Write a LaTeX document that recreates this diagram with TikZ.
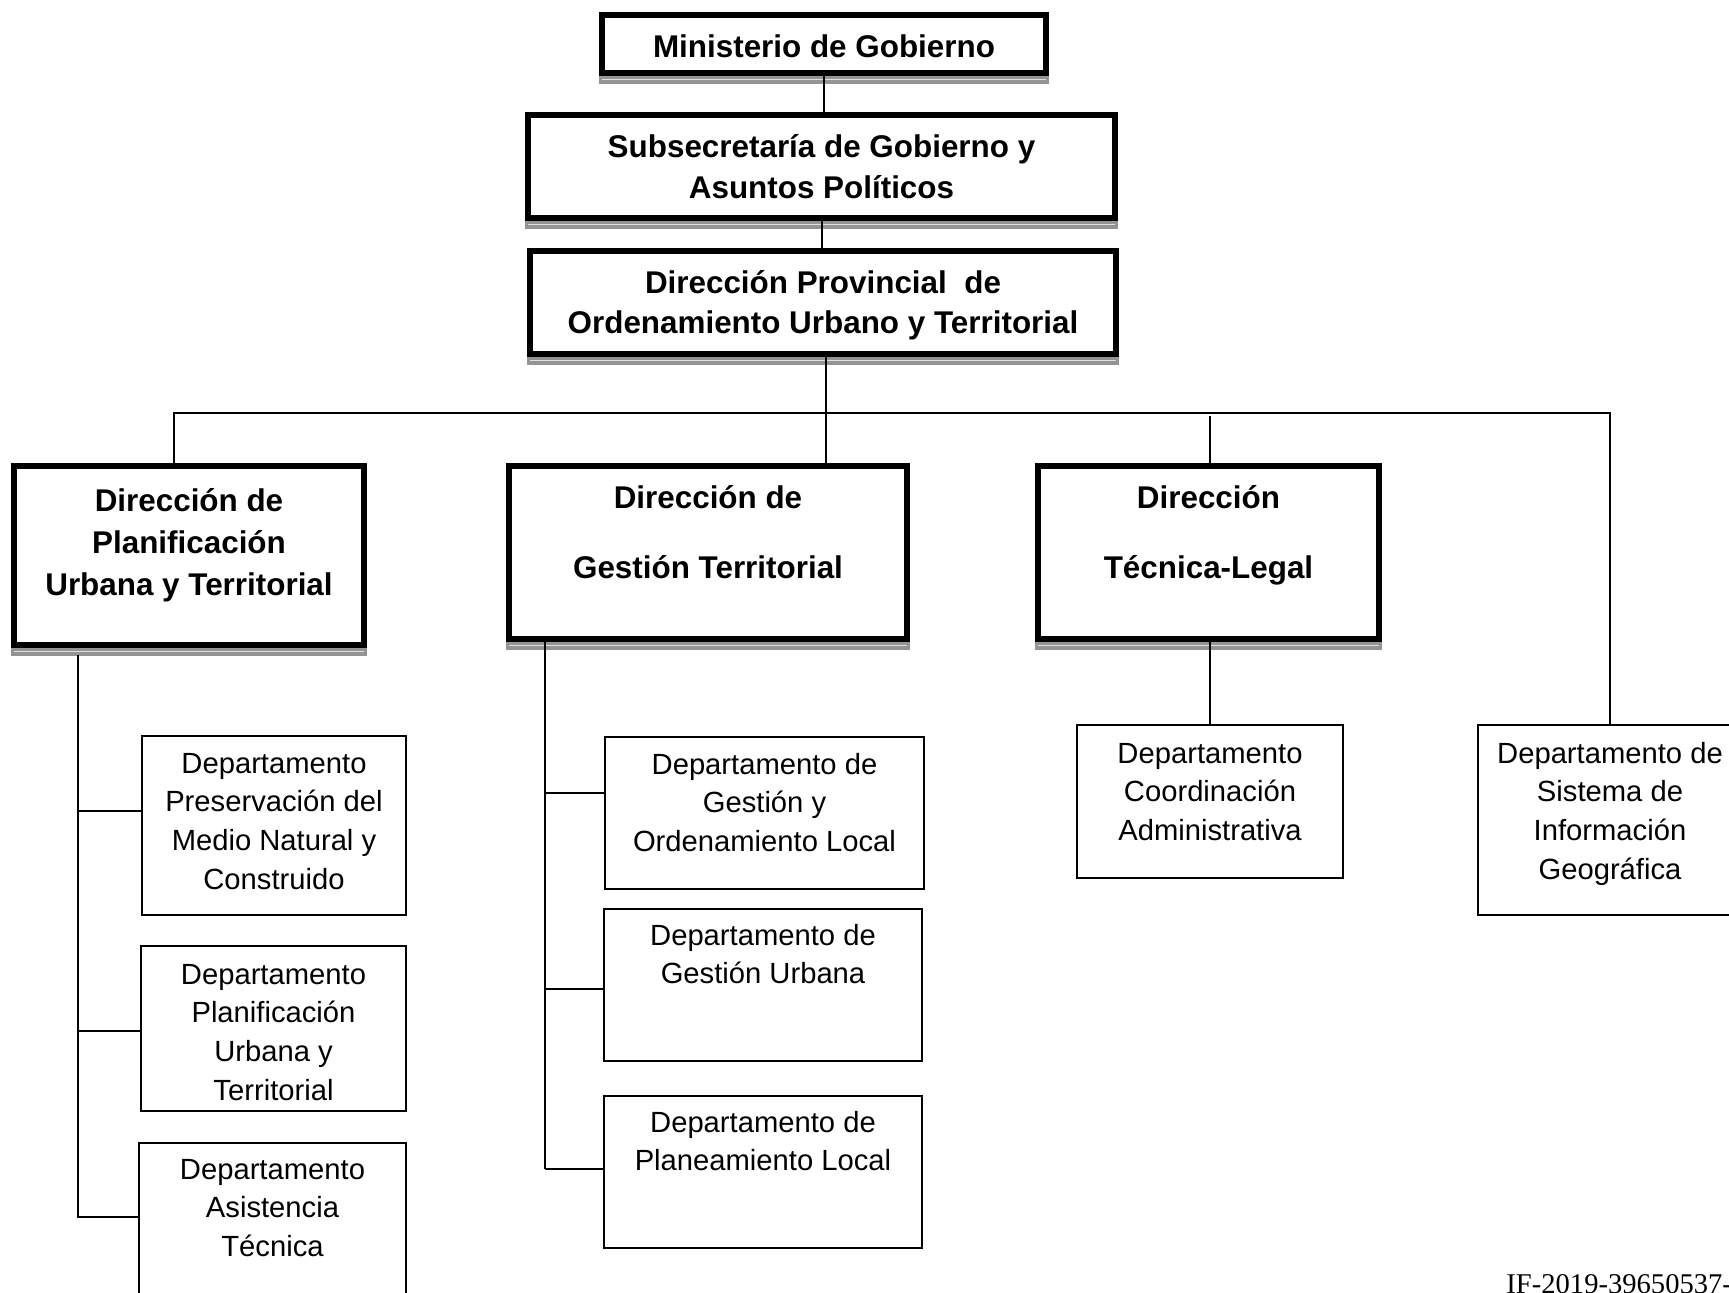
\documentclass[tikz,border=0pt]{standalone}
\usepackage{fontspec}
\setmainfont{Liberation Sans}
\newfontfamily\timesf{Liberation Serif}
\newcommand\boxshadow[1]{%
  \fill[black!42] (#1.south west) rectangle ([yshift=-4pt]#1.south east);
  \draw[black!12, line width=0.5pt] ([xshift=1.5pt,yshift=-1.8pt]#1.south west) -- ([xshift=-1.5pt,yshift=-1.8pt]#1.south east);
}
\newcommand\mlines[1]{\begin{tabular}[t]{@{}c@{}}#1\end{tabular}}
\begin{document}
\begin{tikzpicture}[x=0.5pt,y=-0.5pt,
  bigbox/.style={draw, line width=3pt, inner sep=0pt, minimum height=0pt, anchor=base,
     font=\bfseries\fontsize{15.7}{20.5}\selectfont},
  smallbox/.style={draw, line width=0.9pt, inner sep=0pt, minimum height=0pt, anchor=base,
     font=\fontsize{14.6}{19.35}\selectfont},
  conn/.style={line width=1pt}]
\useasboundingbox (0,0) rectangle (1729,1292);
\fill[white] (0,0) rectangle (1729,1292);
\clip (0,0) rectangle (1729,1292);

% top levels
\node[bigbox, minimum width=222pt, text height=21pt, text depth=8pt] (min) at (824,57) {Ministerio de Gobierno};
\node[bigbox, minimum width=293.5pt, text height=21pt, text depth=30.5pt] (sub) at (821.5,157) {\mlines{Subsecretaría de Gobierno y\\Asuntos Políticos}};
\node[bigbox, minimum width=293pt, text height=21pt, text depth=30.5pt, font=\bfseries\fontsize{15.7}{20}\selectfont] (prov) at (823,293) {\mlines{Dirección Provincial\ \ de\\Ordenamiento Urbano y Territorial}};

% directions
\node[bigbox, minimum width=175pt, text height=22.5pt, text depth=67pt, font=\bfseries\fontsize{15.7}{21}\selectfont] (plan) at (189,511) {\mlines{Dirección de\\Planificación\\Urbana y Territorial}};
\node[bigbox, minimum width=199pt, text height=21pt, text depth=65.5pt, font=\bfseries\fontsize{15.7}{35}\selectfont] (gest) at (708,508) {\mlines{Dirección de\\Gestión Territorial}};
\node[bigbox, minimum width=170.5pt, text height=21pt, text depth=65.5pt, font=\bfseries\fontsize{15.7}{35}\selectfont] (tec) at (1208.5,508) {\mlines{Dirección\\Técnica-Legal}};

\boxshadow{min}
\boxshadow{sub}
\boxshadow{prov}
\boxshadow{plan}
\boxshadow{gest}
\boxshadow{tec}

% departments
\node[smallbox, minimum width=132pt, text height=18.5pt, text depth=71pt] (pres) at (274,773) {\mlines{Departamento\\Preservación del\\Medio Natural y\\Construido}};
\node[smallbox, minimum width=132.5pt, text height=19pt, text depth=63.5pt] (planu) at (273.5,984) {\mlines{Departamento\\Planificación\\Urbana y\\Territorial}};
\node[smallbox, minimum width=133.5pt, text height=18pt, text depth=70.5pt] (asis) at (272.5,1179) {\mlines{Departamento\\Asistencia\\Técnica}};
\node[smallbox, minimum width=159.5pt, text height=18.5pt, text depth=57.5pt] (gol) at (764.5,774) {\mlines{Departamento de\\Gestión y\\Ordenamiento Local}};
\node[smallbox, minimum width=159pt, text height=18pt, text depth=58pt] (gu) at (763,945) {\mlines{Departamento de\\Gestión Urbana}};
\node[smallbox, minimum width=159pt, text height=18pt, text depth=58pt] (pl) at (763,1132) {\mlines{Departamento de\\Planeamiento Local}};
\node[smallbox, minimum width=133pt, text height=19pt, text depth=57.5pt] (coord) at (1210,763) {\mlines{Departamento\\Coordinación\\Administrativa}};
\node[smallbox, minimum width=132pt, text height=19pt, text depth=76pt] (sis) at (1610,763) {\mlines{Departamento de\\Sistema de\\Información\\Geográfica}};

\node[anchor=base west, inner sep=0pt, font=\timesf\fontsize{14.3}{17}\selectfont] (ref) at (1506,1293) {IF-2019-39650537-};

% connectors
\coordinate (busL) at (174,413);
\coordinate (busR) at (1610,413);
\coordinate (ltop) at (78,655);
\coordinate (lbot) at (78,1218);
\coordinate (lb1) at (78,811);
\coordinate (lb2) at (78,1031);
\coordinate (lb3) at (78,1217);
\coordinate (mbot) at (545,1169);
\coordinate (mb1) at (545,793);
\coordinate (mb2) at (545,989);

\draw[conn] (min.south) -- (min.south |- sub.north);
\draw[conn] (sub.south) -- (sub.south |- prov.north);
\draw[conn] ([xshift=1.5pt]prov.south) -- ([xshift=1.5pt,yshift=-3pt]prov.south |- gest.north);
\draw[conn] (plan.north -| busL) -- (busL) -- (busR) -- (busR |- sis.north);
\draw[conn] ([xshift=0.75pt]tec.north) -- ([xshift=0.75pt,yshift=-1.5pt]tec.north |- busL);
\draw[conn] (tec.south -| coord.north) -- (coord.north);

\draw[conn] (ltop) -- (lbot);
\draw[conn] (lb1) -- (lb1 -| pres.west);
\draw[conn] (lb2) -- (lb2 -| planu.west);
\draw[conn] (lb3) -- (lb3 -| asis.west);

\draw[conn] (gest.south -| mbot) -- (mbot);
\draw[conn] (mb1) -- (mb1 -| gol.west);
\draw[conn] (mb2) -- (mb2 -| gu.west);
\draw[conn] (mbot) -- (mbot -| pl.west);
\end{tikzpicture}
\end{document}
